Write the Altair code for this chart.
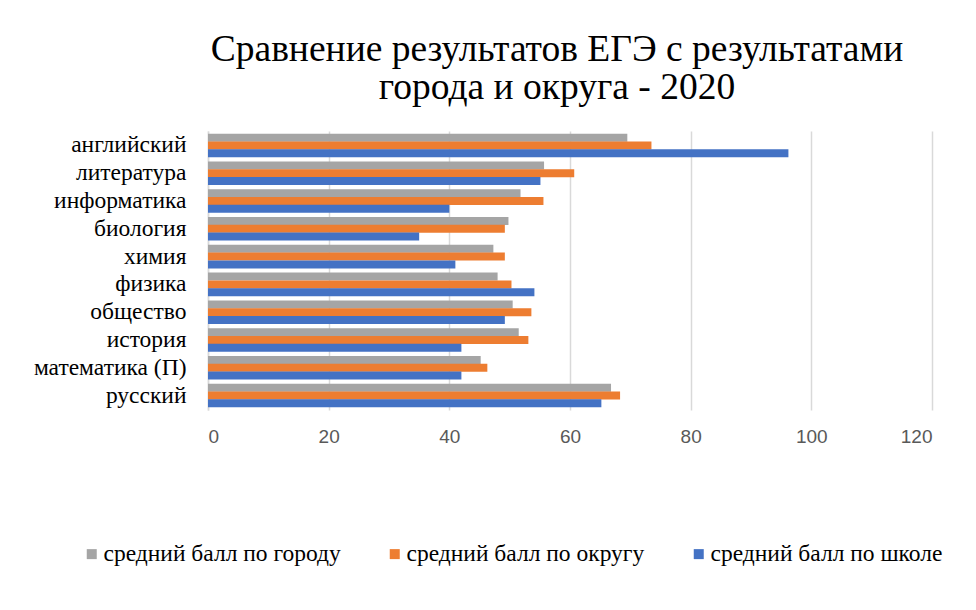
import altair as alt
import pandas as pd

subjects = ["английский", "литература", "информатика", "биология", "химия",
            "физика", "общество", "история", "математика (П)", "русский"]
series = ["средний балл по городу", "средний балл по округу", "средний балл по школе"]
city = [69.5, 55.7, 51.8, 49.8, 47.3, 48.0, 50.5, 51.5, 45.2, 66.8]
district = [73.5, 60.7, 55.6, 49.2, 49.2, 50.3, 53.6, 53.1, 46.3, 68.3]
school = [96.2, 55.1, 40.0, 35.0, 41.0, 54.1, 49.2, 42.0, 42.0, 65.2]
colors = ["#A5A5A5", "#ED7D31", "#4472C4"]
x_ticks = [0, 20, 40, 60, 80, 100, 120]

rows = []
for vals, s in zip([city, district, school], series):
    for subj, v in zip(subjects, vals):
        rows.append({"subject": subj, "series": s, "value": v})
df = pd.DataFrame(rows)

serif = "Liberation Serif"

bars = alt.Chart(df).mark_bar(size=8).encode(
    y=alt.Y("subject:N", sort=subjects, title=None,
            scale=alt.Scale(paddingInner=0.16, paddingOuter=0.1),
            axis=alt.Axis(labelFont=serif, labelFontSize=23.5, labelColor="#000000",
                          ticks=False, labelPadding=22, domain=True,
                          domainColor="#D9D9D9", domainWidth=1.5)),
    yOffset=alt.YOffset("series:N", sort=series),
    x=alt.X("value:Q", title=None,
            scale=alt.Scale(domain=[0, 120], nice=False),
            axis=alt.Axis(values=x_ticks, labelFont="Liberation Sans", labelFontSize=19,
                          labelColor="#595959", ticks=False, domain=False,
                          gridColor="#D9D9D9", gridWidth=1.5, labelPadding=17)),
    color=alt.Color("series:N", sort=series,
                    scale=alt.Scale(domain=series, range=colors),
                    legend=alt.Legend(title=None, orient="none", direction="horizontal",
                                      legendX=-128, legendY=411,
                                      symbolType="square", symbolSize=100,
                                      symbolStrokeWidth=0,
                                      labelFont=serif, labelFontSize=23.5,
                                      labelColor="#000000", labelOffset=0,
                                      columnPadding=42, labelLimit=400)),
)

chart = bars.properties(
    width=724,
    height=279,
    title=alt.TitleParams(
        text=["Сравнение результатов ЕГЭ с результатами", "города и округа - 2020"],
        font=serif, fontSize=37.5, fontWeight="normal", color="#000000",
        anchor="middle", lineHeight=38, offset=25, dx=-13),
    autosize=alt.AutoSizeParams(type="none"),
    padding={"left": 200, "top": 123, "right": 36, "bottom": 192},
).configure_view(stroke=None).configure_title(font=serif).configure_legend(labelFont=serif)

chart.save("out.html", embed_options={"renderer": "svg", "actions": False})
